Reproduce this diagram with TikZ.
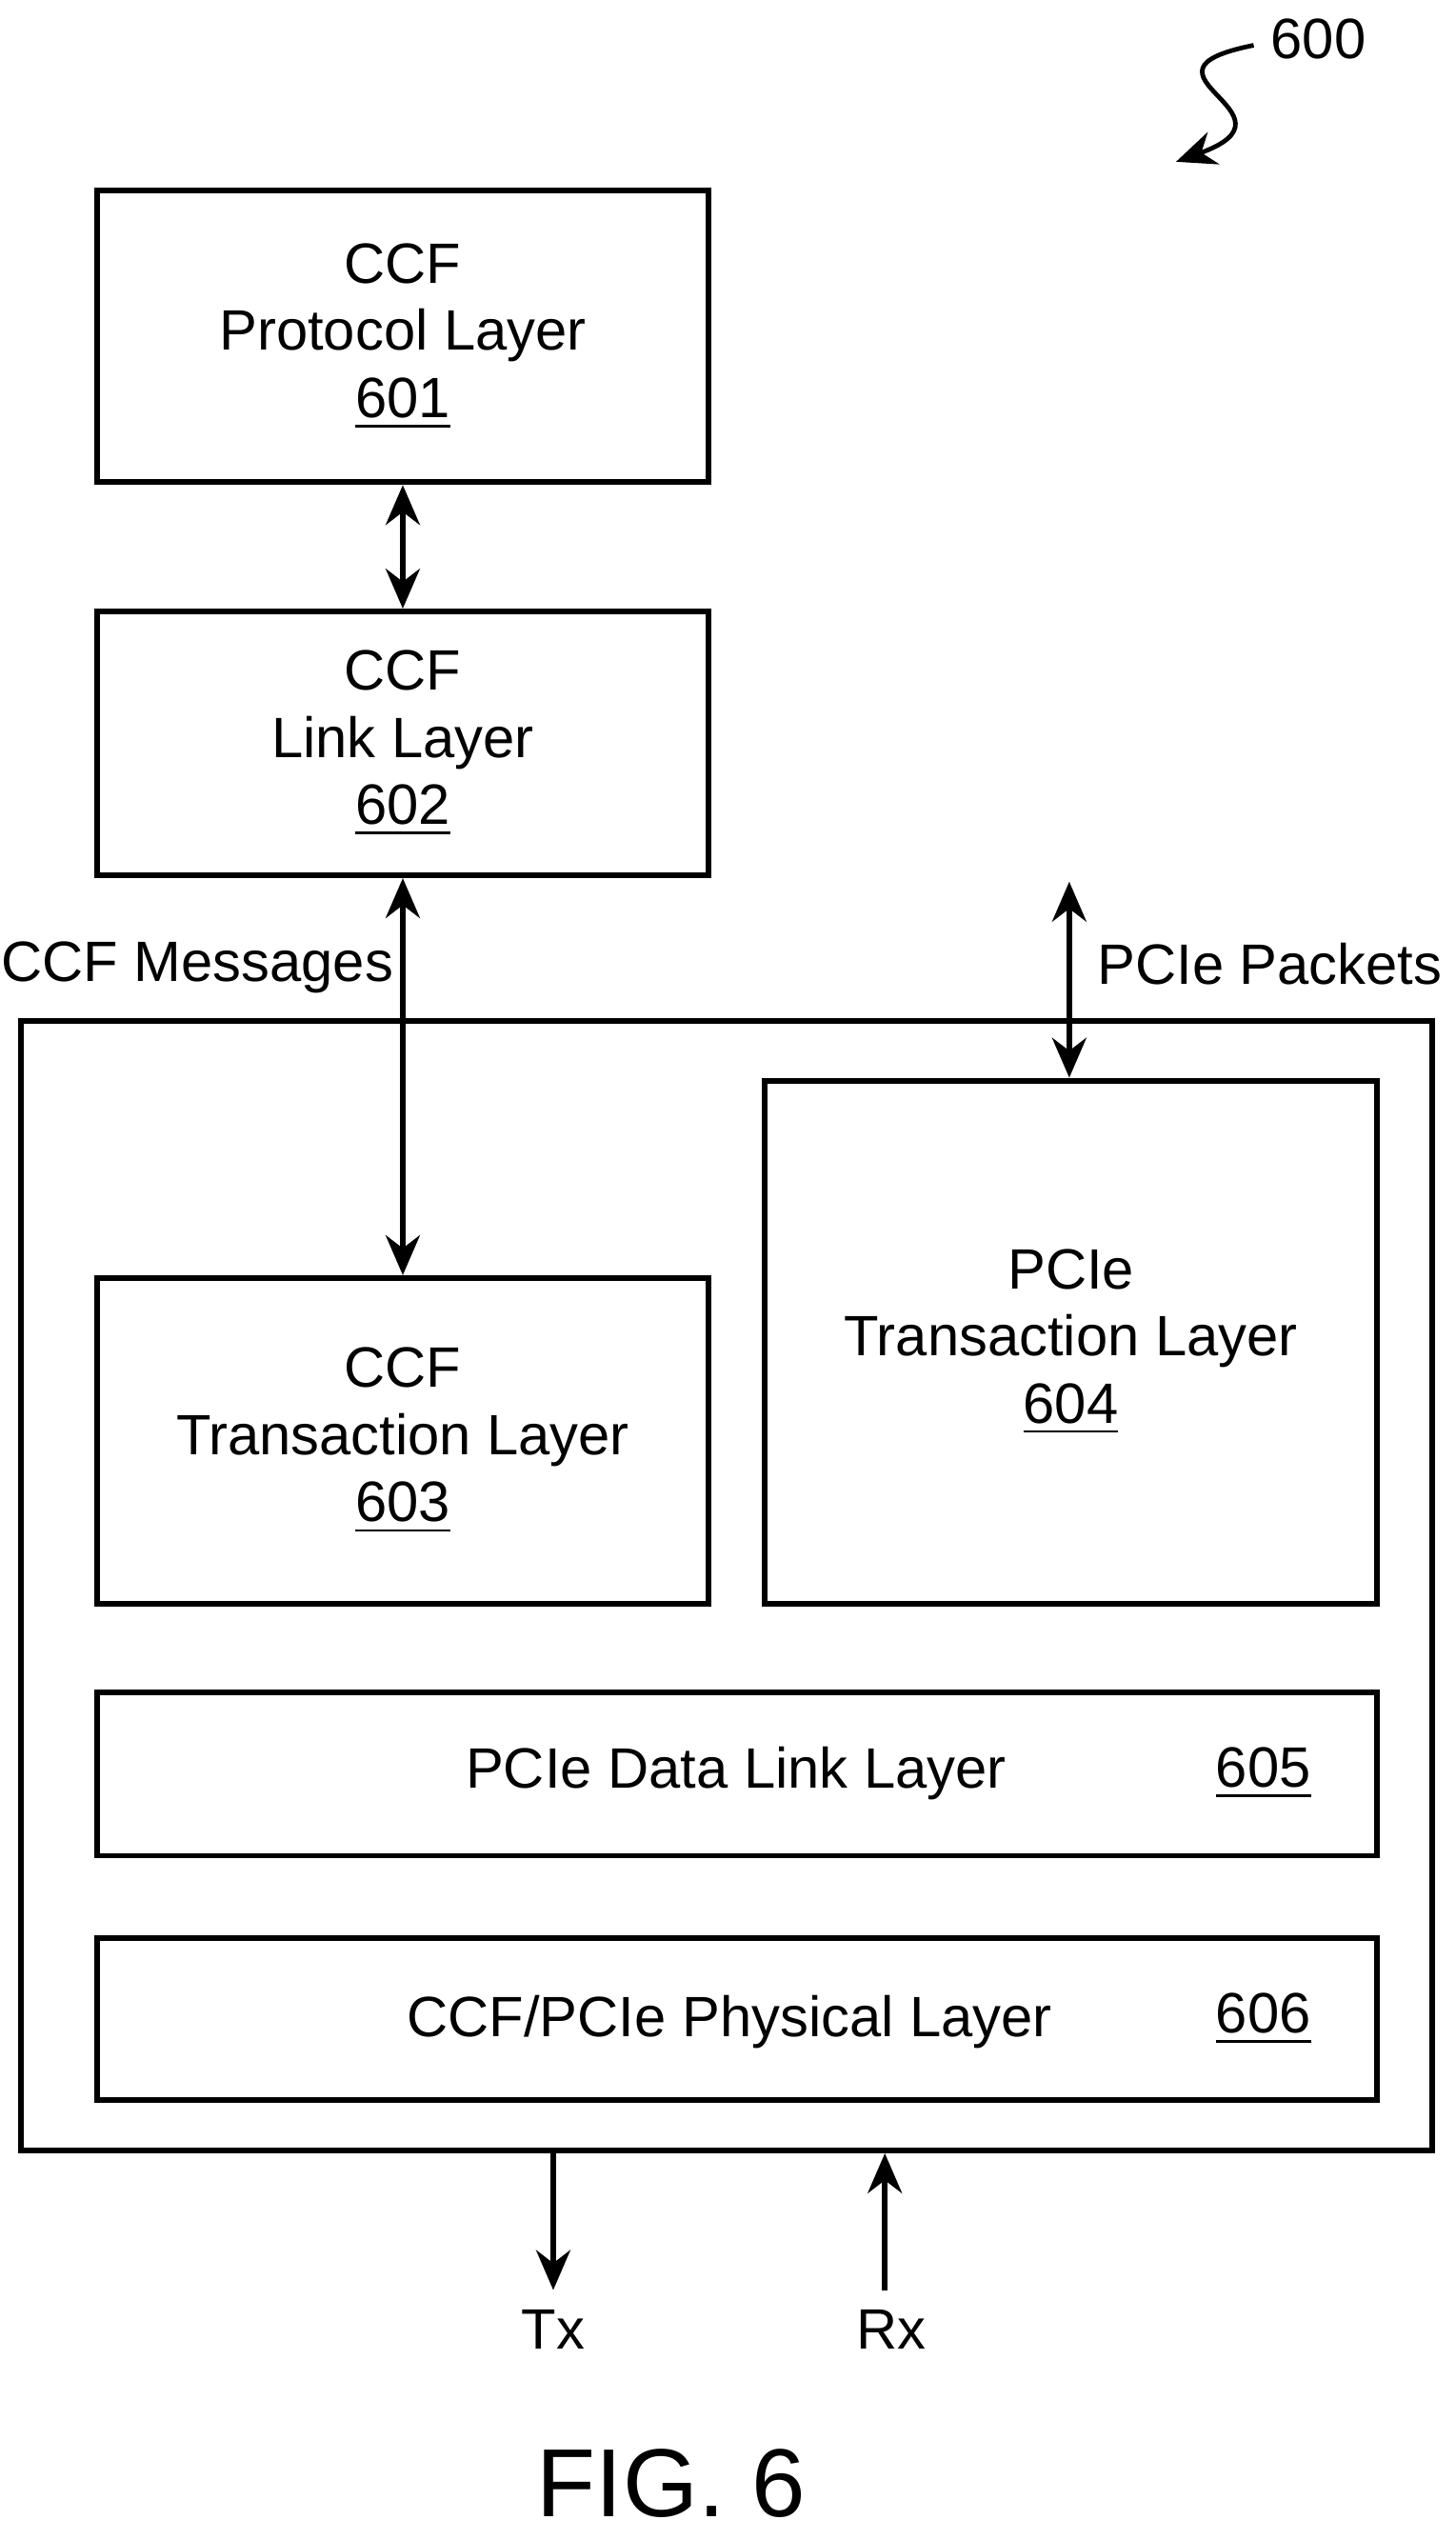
\documentclass[tikz,border=0pt]{standalone}
\usepackage{fontspec}
\setmainfont{Liberation Sans}
\usetikzlibrary{arrows.meta,positioning}
\tikzset{
  schicht/.style={draw,line width=1pt,align=center,inner sep=0pt,
    font=\fontsize{10}{11.8}\selectfont},
  txt/.style={font=\fontsize{10}{11.8}\selectfont},
  pfeil/.style={line width=1pt,-{Stealth[length=7pt,width=6pt]}},
  dpfeil/.style={line width=1pt,{Stealth[length=7pt,width=6pt]}-{Stealth[length=7pt,width=6pt]}}
}
\begin{document}
\begin{tikzpicture}[x=0.01cm,y=-0.01cm]
\useasboundingbox (0,0) rectangle (900,1570);
% obere Schichten
  \node[schicht,minimum width=3.78cm,minimum height=1.8cm] (P1) at (249,208)
    {CCF\\Protocol Layer\\\underline{601}};
  \node[schicht,minimum width=3.78cm,minimum height=1.63cm] (P2) at (249,459.5)
    {CCF\\Link Layer\\\underline{602}};
% aeusserer Rahmen
  \node[draw,line width=1pt,minimum width=8.72cm,minimum height=6.98cm] (R) at (449,980) {};
  \node[schicht,minimum width=3.78cm,minimum height=2.01cm] (P3) at (249,890.5)
    {CCF\\Transaction Layer\\\underline{603}};
  \node[schicht,minimum width=3.78cm,minimum height=3.23cm] (P4) at (662,829.5)
    {PCIe\\Transaction Layer\\\underline{604}};
  \node[schicht,minimum width=7.91cm,minimum height=1.01cm] (P5) at (455.5,1096.5) {};
  \node[txt] at (455,1096) {PCIe Data Link Layer};
  \node[txt] at (781,1096) {\underline{605}};
  \node[schicht,minimum width=7.91cm,minimum height=1.0cm] (P6) at (455.5,1248) {};
  \node[txt] at (451,1250) {CCF/PCIe Physical Layer};
  \node[txt] at (781,1248) {\underline{606}};
% Beschriftungen
  \node[txt] (msg) at (122,598) {CCF Messages};
  \node[txt] (pkt) at (785,596) {PCIe Packets};
  \coordinate (pktend) at (661,545);
  \node[txt] (tx) at (342,1440) {Tx};
  \node[txt] (rx) at (551,1440) {Rx};
  \node[txt] (nr) at (815,24) {600};
  \node[font=\fontsize{17}{20}\selectfont] (fig) at (415,1535) {FIG. 6};
% Verbindungen
  \draw[dpfeil] (P1) -- (P2);
  \draw[dpfeil] (P2) -- (P3);
  \draw[dpfeil] (pktend) -- (P4.north -| pktend);
  \draw[pfeil] (R.south -| tx) -- (tx.north);
  \draw[pfeil] (rx.north -| 547,0) -- (R.south -| 547,0);
  \coordinate (s0) at (775,28);
  \coordinate (s1) at (727,100);
  \draw[pfeil,line width=0.8pt] (s0) .. controls (690,45) and (810,70) .. (s1);
\end{tikzpicture}
\end{document}
